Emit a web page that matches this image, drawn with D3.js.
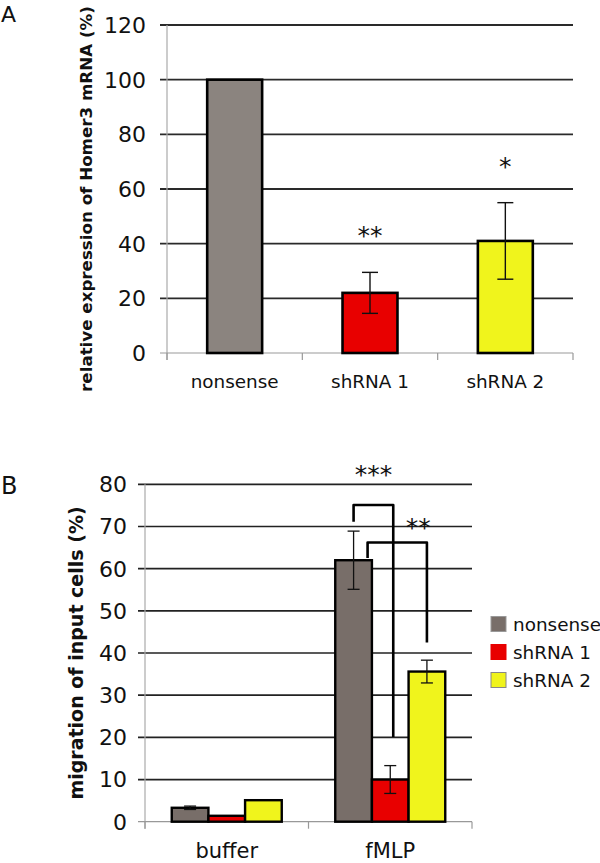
<!DOCTYPE html>
<html>
<head>
<meta charset="utf-8">
<script src="https://cdn.jsdelivr.net/npm/d3@7"></script>
<style>
  body { margin: 0; background: #fff; }
  svg { display: block; }
  text { font-family: "DejaVu Sans", Verdana, sans-serif; fill: #111; }
</style>
</head>
<body>
<svg id="chart" width="600" height="863"></svg>
<script>
// ---------- Panel A data ----------
const categoriesA = ["nonsense", "shRNA 1", "shRNA 2"];
const valuesA = [100, 22, 41];
const errorsA = [0, 7.5, 14];
const starsA = ["", "**", "*"];
const ticksA = [0, 20, 40, 60, 80, 100, 120];
const colorsA = ["#8b847f", "#e80000", "#f0f41c"];

// ---------- Panel B data ----------
const groupsB = ["buffer", "fMLP"];
const seriesB = ["nonsense", "shRNA 1", "shRNA 2"];
const bufferValues = [3.3, 1.4, 5.1];
const bufferErrors = [0.4, 0, 0];
const fmlpValues = [62, 10, 35.6];
const fmlpErrors = [6.9, 3.3, 2.7];
const ticksB = [0, 10, 20, 30, 40, 50, 60, 70, 80];
const colorsB = ["#786e69", "#e80000", "#f0f41c"];
// significance brackets (fMLP group): from series -> to series, label, levels in data units
const bracketFrom = [0, 0];
const bracketTo = [1, 2];
const bracketLabels = ["***", "**"];
const bracketTop = [75.1, 66.2];
const bracketLeftEnd = [71.1, 62.5];
const bracketRightEnd = [20.1, 42.5];

const svg = d3.select("#chart");

// ================= Panel A =================
(function () {
  const x = d3.scaleBand().domain(categoriesA).range([167, 573]).padding(0);
  const y = d3.scaleLinear().domain([0, 120]).range([353, 25]);
  const barW = x.bandwidth() * 0.406;
  const g = svg.append("g");

  svg.append("text").attr("x", 1).attr("y", 22).attr("font-size", 22).text("A");

  g.selectAll("line.grid").data(ticksA.filter(t => t > 0)).join("line")
    .attr("x1", 160).attr("x2", 573)
    .attr("y1", d => y(d)).attr("y2", d => y(d))
    .attr("stroke", "#2a2a2a").attr("stroke-width", 1.8);

  g.append("line").attr("x1", 167).attr("x2", 167).attr("y1", y(120)).attr("y2", y(0) + 7)
    .attr("stroke", "#aaa").attr("stroke-width", 1.2);
  g.append("line").attr("x1", 160).attr("x2", 573).attr("y1", y(0)).attr("y2", y(0))
    .attr("stroke", "#999").attr("stroke-width", 1.2);
  const edges = categoriesA.map(c => x(c)).concat([x.range()[1]]);
  g.selectAll("line.ctick").data(edges).join("line")
    .attr("x1", d => d).attr("x2", d => d).attr("y1", y(0)).attr("y2", y(0) + 7)
    .attr("stroke", "#999").attr("stroke-width", 1.2);

  g.selectAll("text.tick").data(ticksA).join("text")
    .attr("x", 146).attr("y", d => y(d)).attr("dy", "0.36em")
    .attr("text-anchor", "end").attr("font-size", 22).text(d => d);

  g.selectAll("rect.bar").data(categoriesA).join("rect")
    .attr("x", d => x(d) + (x.bandwidth() - barW) / 2)
    .attr("width", barW)
    .attr("y", (d, i) => y(valuesA[i]))
    .attr("height", (d, i) => y(0) - y(valuesA[i]))
    .attr("fill", (d, i) => colorsA[i])
    .attr("stroke", "#000").attr("stroke-width", 2.6);

  categoriesA.forEach((c, i) => {
    if (!errorsA[i]) return;
    const cx = x(c) + x.bandwidth() / 2;
    const y1 = y(valuesA[i] + errorsA[i]), y2 = y(valuesA[i] - errorsA[i]);
    g.append("line").attr("x1", cx).attr("x2", cx).attr("y1", y1).attr("y2", y2)
      .attr("stroke", "#111").attr("stroke-width", 1.4);
    [y1, y2].forEach(yy => g.append("line").attr("x1", cx - 8).attr("x2", cx + 8)
      .attr("y1", yy).attr("y2", yy).attr("stroke", "#111").attr("stroke-width", 1.4));
    g.append("text").attr("x", cx).attr("y", y1 - 41 + 13)
      .attr("text-anchor", "middle").attr("font-size", 25).attr("fill", "#222")
      .text(starsA[i]);
  });

  g.selectAll("text.cat").data(categoriesA).join("text")
    .attr("x", d => x(d) + x.bandwidth() / 2).attr("y", 388)
    .attr("text-anchor", "middle").attr("font-size", 18.4).text(d => d);

  g.append("text").attr("transform", "translate(92,199) rotate(-90)")
    .attr("text-anchor", "middle").attr("font-size", 16.7).attr("font-weight", "bold")
    .text("relative expression of Homer3 mRNA (%)");
})();

// ================= Panel B =================
(function () {
  const x0 = d3.scaleBand().domain(groupsB).range([145, 472]).padding(0);
  const groupW = 110;
  const x1 = d3.scaleBand().domain(seriesB).range([0, groupW]).padding(0);
  const y = d3.scaleLinear().domain([0, 80]).range([821.7, 484.3]);
  const g = svg.append("g");
  const off = (x0.bandwidth() - groupW) / 2;

  svg.append("text").attr("x", 1).attr("y", 494).attr("font-size", 24).text("B");

  g.selectAll("line.grid").data(ticksB.filter(t => t > 0)).join("line")
    .attr("x1", 138).attr("x2", 472)
    .attr("y1", d => y(d)).attr("y2", d => y(d))
    .attr("stroke", "#222").attr("stroke-width", 1.7);

  g.append("line").attr("x1", 145).attr("x2", 145).attr("y1", y(80)).attr("y2", y(0) + 7)
    .attr("stroke", "#aaa").attr("stroke-width", 1.2);
  g.append("line").attr("x1", 138).attr("x2", 472).attr("y1", y(0)).attr("y2", y(0))
    .attr("stroke", "#999").attr("stroke-width", 1.2);
  const edges = groupsB.map(c => x0(c)).concat([x0.range()[1]]);
  g.selectAll("line.ctick").data(edges).join("line")
    .attr("x1", d => d).attr("x2", d => d).attr("y1", y(0)).attr("y2", y(0) + 7)
    .attr("stroke", "#999").attr("stroke-width", 1.2);

  g.selectAll("text.tick").data(ticksB).join("text")
    .attr("x", 127).attr("y", d => y(d)).attr("dy", "0.36em")
    .attr("text-anchor", "end").attr("font-size", 22).text(d => d);

  const groupData = [
    { name: groupsB[0], values: bufferValues, errors: bufferErrors },
    { name: groupsB[1], values: fmlpValues, errors: fmlpErrors }
  ];
  const cxOf = (gname, s) => x0(gname) + off + x1(s) + x1.bandwidth() / 2;

  groupData.forEach(gd => {
    seriesB.forEach((s, i) => {
      g.append("rect")
        .attr("x", x0(gd.name) + off + x1(s))
        .attr("width", x1.bandwidth())
        .attr("y", y(gd.values[i]))
        .attr("height", y(0) - y(gd.values[i]))
        .attr("fill", colorsB[i])
        .attr("stroke", "#000").attr("stroke-width", 2.4);
    });
  });
  groupData.forEach(gd => {
    seriesB.forEach((s, i) => {
      if (!gd.errors[i]) return;
      const cx = cxOf(gd.name, s);
      const ya = y(gd.values[i] + gd.errors[i]), yb = y(gd.values[i] - gd.errors[i]);
      g.append("line").attr("x1", cx).attr("x2", cx).attr("y1", ya).attr("y2", yb)
        .attr("stroke", "#111").attr("stroke-width", 1.3);
      [ya, yb].forEach(yy => g.append("line").attr("x1", cx - 6).attr("x2", cx + 6)
        .attr("y1", yy).attr("y2", yy).attr("stroke", "#111").attr("stroke-width", 1.3));
    });
  });

  const legOffsetL = [0, 14];
  const legOffsetR = [3, 0];
  const starPos = [[0, -35], [21, -20]];
  bracketLabels.forEach((lab, k) => {
    const xa = cxOf("fMLP", seriesB[bracketFrom[k]]) + legOffsetL[k];
    const xb = cxOf("fMLP", seriesB[bracketTo[k]]) + legOffsetR[k];
    const path = d3.path();
    path.moveTo(xa, y(bracketLeftEnd[k]));
    path.lineTo(xa, y(bracketTop[k]));
    path.lineTo(xb, y(bracketTop[k]));
    path.lineTo(xb, y(bracketRightEnd[k]));
    g.append("path").attr("d", path.toString()).attr("fill", "none")
      .attr("stroke", "#000").attr("stroke-width", 2.6).attr("stroke-linejoin", "round");
    g.append("text")
      .attr("x", (xa + xb) / 2 + starPos[k][0])
      .attr("y", y(bracketTop[k]) + starPos[k][1] + 13)
      .attr("text-anchor", "middle").attr("font-size", 25).attr("fill", "#222").text(lab);
  });

  g.selectAll("text.cat").data(groupsB).join("text")
    .attr("x", d => x0(d) + x0.bandwidth() / 2).attr("y", 858)
    .attr("text-anchor", "middle").attr("font-size", 21).text(d => d);

  g.append("text").attr("transform", "translate(83,653) rotate(-90)")
    .attr("text-anchor", "middle").attr("font-size", 19).attr("font-weight", "bold")
    .text("migration of input cells (%)");

  const legStroke = ["#999", "#e80000", "#888"];
  const lg = svg.append("g");
  seriesB.forEach((s, i) => {
    const cy = 624 + i * 28;
    lg.append("rect").attr("x", 491).attr("y", cy - 7.5).attr("width", 15).attr("height", 15)
      .attr("fill", colorsB[i]).attr("stroke", legStroke[i]).attr("stroke-width", 1);
    lg.append("text").attr("x", 513).attr("y", cy).attr("dy", "0.36em")
      .attr("font-size", 18.4).text(s);
  });
})();
</script>
</body>
</html>
